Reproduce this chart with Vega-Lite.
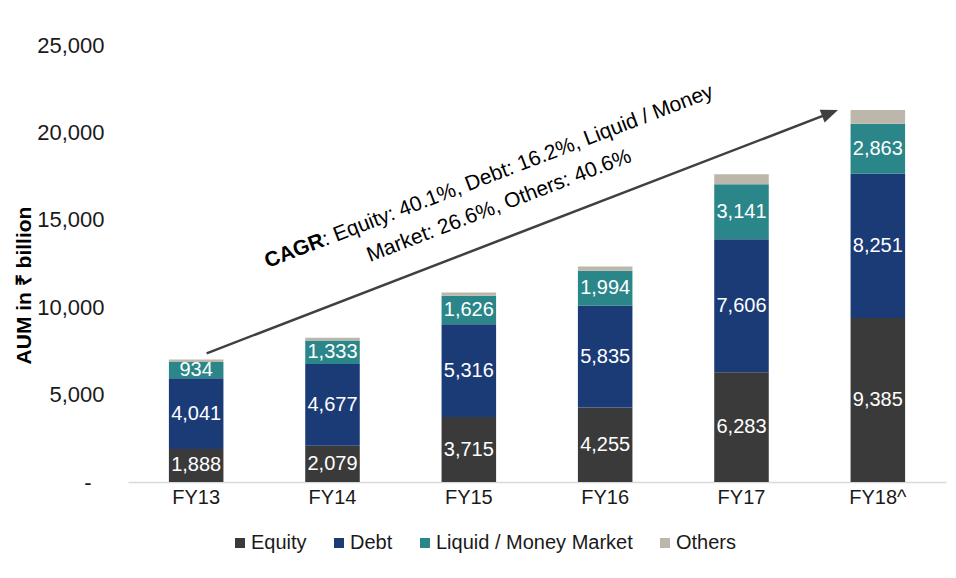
{
  "$schema": "https://vega.github.io/schema/vega-lite/v6.json",
  "width": 818,
  "height": 437,
  "autosize": {"type": "none"},
  "padding": {"left": 128, "top": 45, "right": 10, "bottom": 96},
  "background": "white",
  "config": {"font": "Liberation Sans", "view": {"stroke": null}, "axis": {"grid": false}},
  "layer": [
    {
      "data": {
        "values": [
          {"year": "FY13", "type": "Equity", "value": 1888},
          {"year": "FY13", "type": "Debt", "value": 4041},
          {"year": "FY13", "type": "Liquid / Money Market", "value": 934},
          {"year": "FY13", "type": "Others", "value": 140},
          {"year": "FY14", "type": "Equity", "value": 2079},
          {"year": "FY14", "type": "Debt", "value": 4677},
          {"year": "FY14", "type": "Liquid / Money Market", "value": 1333},
          {"year": "FY14", "type": "Others", "value": 170},
          {"year": "FY15", "type": "Equity", "value": 3715},
          {"year": "FY15", "type": "Debt", "value": 5316},
          {"year": "FY15", "type": "Liquid / Money Market", "value": 1626},
          {"year": "FY15", "type": "Others", "value": 190},
          {"year": "FY16", "type": "Equity", "value": 4255},
          {"year": "FY16", "type": "Debt", "value": 5835},
          {"year": "FY16", "type": "Liquid / Money Market", "value": 1994},
          {"year": "FY16", "type": "Others", "value": 250},
          {"year": "FY17", "type": "Equity", "value": 6283},
          {"year": "FY17", "type": "Debt", "value": 7606},
          {"year": "FY17", "type": "Liquid / Money Market", "value": 3141},
          {"year": "FY17", "type": "Others", "value": 570},
          {"year": "FY18^", "type": "Equity", "value": 9385},
          {"year": "FY18^", "type": "Debt", "value": 8251},
          {"year": "FY18^", "type": "Liquid / Money Market", "value": 2863},
          {"year": "FY18^", "type": "Others", "value": 780}
        ]
      },
      "transform": [
        {"calculate": "indexof(['Equity','Debt','Liquid / Money Market','Others'], datum.type)", "as": "stackOrder"}
      ],
      "encoding": {
        "x": {
          "field": "year", "type": "nominal", "sort": null,
          "scale": {"paddingInner": 0.6, "paddingOuter": 0.3},
          "axis": {"title": null, "labelAngle": 0, "ticks": false, "domainColor": "#d9d9d9", "domainWidth": 1.5, "labelFontSize": 20, "labelPadding": 5, "labelColor": "#1a1a1a"}
        },
        "y": {
          "field": "value", "type": "quantitative", "stack": "zero",
          "scale": {"domain": [0, 25000], "nice": false, "zero": true},
          "axis": {
            "values": [0, 5000, 10000, 15000, 20000, 25000],
            "labelExpr": "datum.value === 0 ? '-' : format(datum.value, ',')",
            "ticks": false, "domain": false, "labelFontSize": 22, "labelColor": "#1a1a1a",
            "labelPadding": {"condition": {"test": "datum.value === 0", "value": 37}, "value": 24},
            "title": "AUM in ₹ billion", "titleFontSize": 21, "titleFontWeight": "bold", "titleColor": "#000000",
            "titleX": -104, "titleY": 240, "titleBaseline": "middle"
          }
        },
        "order": {"field": "stackOrder", "type": "quantitative", "sort": "ascending"}
      },
      "layer": [
        {
          "mark": {"type": "bar"},
          "encoding": {
            "color": {
              "field": "type", "type": "nominal",
              "scale": {"domain": ["Equity", "Debt", "Liquid / Money Market", "Others"], "range": ["#3a3a3a", "#1b3b77", "#2a8689", "#bcb7aa"]},
              "legend": {"title": null, "orient": "none", "legendX": 102, "legendY": 488, "direction": "horizontal", "symbolType": "square", "symbolSize": 100, "symbolStrokeWidth": 0, "labelFontSize": 20, "labelOffset": 1, "columnPadding": 22, "labelLimit": 300, "labelColor": "#1a1a1a"}
            }
          }
        },
        {
          "transform": [{"filter": "datum.type !== 'Others'"}],
          "mark": {"type": "text", "color": "white", "fontSize": 20},
          "encoding": {
            "y": {
              "field": "value", "type": "quantitative", "stack": "zero", "bandPosition": 0.5,
              "axis": {
                "values": [0, 5000, 10000, 15000, 20000, 25000],
                "labelExpr": "datum.value === 0 ? '-' : format(datum.value, ',')",
                "ticks": false, "domain": false, "labelFontSize": 22, "labelColor": "#1a1a1a",
                "labelPadding": {"condition": {"test": "datum.value === 0", "value": 37}, "value": 24},
                "title": "AUM in ₹ billion", "titleFontSize": 21, "titleFontWeight": "bold", "titleColor": "#000000",
                "titleX": -104, "titleY": 240, "titleBaseline": "middle"
              }
            },
            "text": {"field": "value", "type": "quantitative", "format": ","}
          }
        }
      ]
    },
    {
      "layer": [
        {
          "data": {"values": [{"x1": 0.577, "y1": 7363, "x2": 5.153, "y2": 21116}]},
          "mark": {"type": "rule", "color": "#404040", "strokeWidth": 2.5},
          "encoding": {
            "x": {"field": "x1", "type": "quantitative", "scale": {"domain": [0, 6]}, "axis": null},
            "y": {"field": "y1", "type": "quantitative", "scale": {"domain": [0, 25000], "nice": false, "zero": true}, "axis": null},
            "x2": {"field": "x2"},
            "y2": {"field": "y2"}
          }
        },
        {
          "data": {"values": [{"x": 5.208, "y": 21281}]},
          "mark": {"type": "point", "shape": "M0,0L-2,-0.8L-2,0.8Z", "filled": true, "color": "#404040", "opacity": 1, "size": 289, "angle": 339, "strokeWidth": 0},
          "encoding": {
            "x": {"field": "x", "type": "quantitative", "axis": null},
            "y": {"field": "y", "type": "quantitative", "axis": null}
          }
        },
        {
          "data": {"values": [{"t": "CAGR", "x": 1.025, "y": 12243}]},
          "mark": {"type": "text", "align": "left", "baseline": "alphabetic", "angle": 339, "fontSize": 21, "fontWeight": "bold", "color": "#000000"},
          "encoding": {
            "x": {"field": "x", "type": "quantitative", "axis": null},
            "y": {"field": "y", "type": "quantitative", "axis": null},
            "text": {"field": "t"}
          }
        },
        {
          "data": {"values": [
            {"t": ": Equity: 40.1%, Debt: 16.2%, Liquid / Money", "x": 1.449, "y": 13501},
            {"t": "Market: 26.6%, Others: 40.6%", "x": 1.775, "y": 12586}
          ]},
          "mark": {"type": "text", "align": "left", "baseline": "alphabetic", "angle": 339, "fontSize": 21, "color": "#000000"},
          "encoding": {
            "x": {"field": "x", "type": "quantitative", "axis": null},
            "y": {"field": "y", "type": "quantitative", "axis": null},
            "text": {"field": "t"}
          }
        }
      ]
    }
  ],
  "resolve": {"scale": {"x": "independent"}, "axis": {"x": "independent", "y": "independent"}}
}
